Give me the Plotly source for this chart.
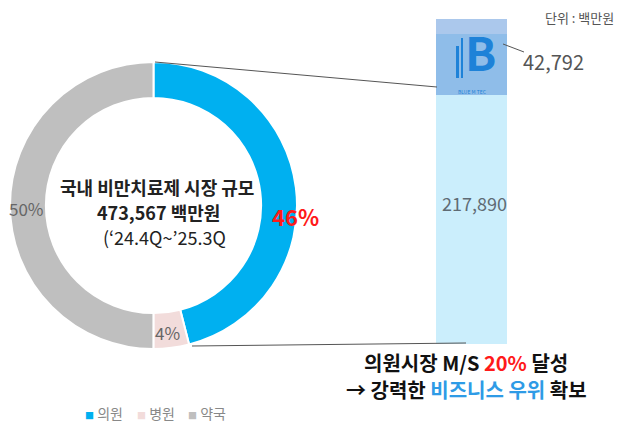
import plotly.graph_objects as go

# ---- data ----
segments = ["의원", "병원", "약국"]
segment_values = [217890, 18943, 236734]
segment_pct_labels = ["46%", "4%", "50%"]
market_total = 473567
clinic_breakdown_labels = ["기타", "BLUE M TEC"]
clinic_breakdown_values = [175098, 42792]
clinic_total_label = "217,890"
bluemtec_label = "42,792"

W, H = 617, 428
FONT = "Noto Sans CJK KR"
colors = ["#00b0f0", "#f2dcdb", "#bfbfbf"]

def px(x):
    return x / W

def py(y):
    return 1 - y / H

fig = go.Figure()

fig.add_trace(go.Pie(
    labels=segments, values=segment_values, hole=0.75, sort=False,
    direction="clockwise", rotation=0,
    marker=dict(colors=colors, line=dict(color="white", width=2)),
    textinfo="none", hoverinfo="label+percent", showlegend=False,
    domain=dict(x=[px(10), px(297)], y=[py(349), py(62)]),
))

clinic_total = sum(clinic_breakdown_values)
fig.add_trace(go.Bar(
    x=[0], y=[clinic_breakdown_values[0]], marker=dict(color="#cbeefc", line=dict(width=0)),
    width=1, showlegend=False, name=clinic_breakdown_labels[0],
))
fig.add_trace(go.Bar(
    x=[0], y=[clinic_breakdown_values[1]], marker=dict(color="#8fbde9", line=dict(width=0)),
    width=1, showlegend=False, name=clinic_breakdown_labels[1],
))

bar_bottom, bar_top, img_top = 344, 34, 19
ymax = clinic_total * (bar_bottom - img_top) / (bar_bottom - bar_top)

fig.update_layout(
    width=W, height=H, margin=dict(l=0, r=0, t=0, b=0),
    paper_bgcolor="white", plot_bgcolor="rgba(0,0,0,0)",
    barmode="stack", bargap=0,
    font=dict(family=FONT, color="#333"),
    xaxis=dict(domain=[px(436), px(507)], range=[-0.5, 0.5], visible=False, fixedrange=True),
    yaxis=dict(domain=[py(bar_bottom), py(img_top)], range=[0, ymax], visible=False, fixedrange=True),
)

shapes = []
# logo background square (lighter band above bar top)
shapes.append(dict(type="rect", xref="x", yref="y", x0=-0.5, x1=0.5, y0=clinic_total, y1=ymax,
                   fillcolor="#abc8ec", line=dict(width=0), layer="above"))
# connector lines
shapes.append(dict(type="line", xref="paper", yref="paper", x0=px(155), y0=py(62), x1=px(437), y1=py(87),
                   line=dict(color="#555", width=1)))
shapes.append(dict(type="line", xref="paper", yref="paper", x0=px(192), y0=py(346), x1=px(466), y1=py(343),
                   line=dict(color="#555", width=1)))
# leader to 42,792
shapes.append(dict(type="line", xref="paper", yref="paper", x0=px(503), y0=py(44), x1=px(524), y1=py(52),
                   line=dict(color="#555", width=1)))
# logo "i" bars
shapes.append(dict(type="rect", xref="paper", yref="paper", x0=px(456), x1=px(459), y0=py(78), y1=py(46),
                   fillcolor="#1e82d8", line=dict(width=0)))
shapes.append(dict(type="rect", xref="paper", yref="paper", x0=px(461), x1=px(463), y0=py(78), y1=py(38),
                   fillcolor="#1e82d8", line=dict(width=0)))
fig.update_layout(shapes=shapes)

ann = []
def add(text, x, y, size, color="#333", bold=False, xanchor="center", pad=1):
    t = f"<b>{text}</b>" if bold else text
    ann.append(dict(text=t, x=px(x), y=py(y), xref="paper", yref="paper", showarrow=False,
                    font=dict(family=FONT, size=size, color=color), xanchor=xanchor, yanchor="middle",
                    borderpad=pad))

add("국내 비만치료제 시장 규모", 157, 187, 18, "#222", True)
add(f"{market_total:,} 백만원", 158, 212, 18, "#222", True)
add("(‘24.4Q~’25.3Q", 164, 237, 18, "#222")
add(segment_pct_labels[2], 26, 208, 17, "#666")
add(segment_pct_labels[0], 295, 216, 22, "#ff1a1a", True)
add(segment_pct_labels[1], 168, 332, 17, "#666")

add("단위 : 백만원", 579, 17, 13, "#555")
add(bluemtec_label, 553, 62, 20, "#555")
add(clinic_total_label, 474, 203, 18, "#5f6b74")

# logo
add("B", 481, 51, 46, "#1e82d8", True, pad=0)
add("BLUE M TEC", 472, 91, 5, "#1e82d8", pad=0)

add("의원시장 M/S <span style='color:#ff1a1a'>20%</span> 달성", 466, 362, 20, "#111", True)
add("→ 강력한 <span style='color:#2e9be6'>비즈니스 우위</span> 확보", 466, 389, 20, "#111", True)

# legend
leg_x = [83, 135, 186]
for name, col, x in zip(segments, colors, leg_x):
    ann.append(dict(text=f"<span style='color:{col}; font-size:9px'>■</span> {name}", x=px(x), y=py(413),
                    xref="paper", yref="paper", showarrow=False, xanchor="left", yanchor="middle",
                    font=dict(family=FONT, size=14, color="#888")))

fig.update_layout(annotations=ann)
fig.write_html("out.html", config={"displayModeBar": False},
               post_script="document.body.style.margin='0px';")
